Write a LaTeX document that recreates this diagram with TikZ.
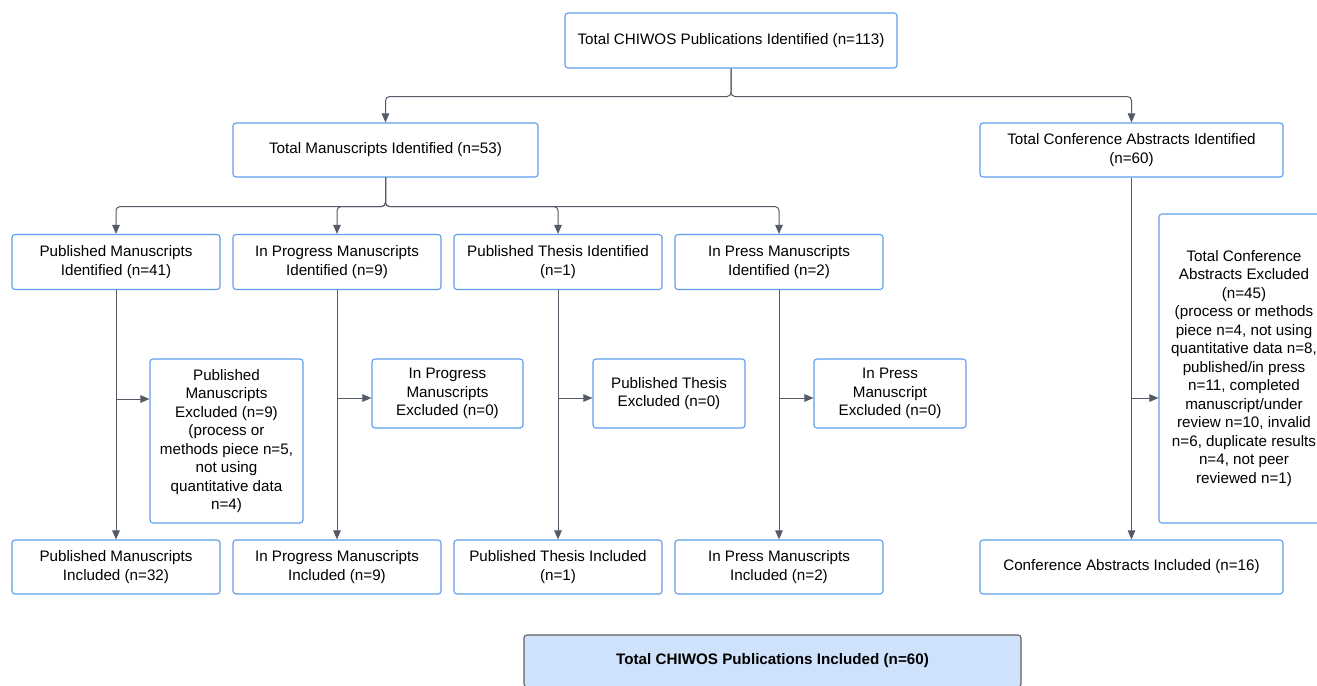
\documentclass[tikz,border=0pt]{standalone}
\usepackage{fontspec}
\setmainfont{Liberation Sans}
\usetikzlibrary{arrows.meta,calc}
\usetikzlibrary{positioning}
\definecolor{boxblue}{HTML}{5E9DEB}
\definecolor{linegray}{HTML}{545B66}
\definecolor{finalfill}{HTML}{CFE2FB}
\tikzset{box/.style={draw=boxblue,line width=1.1bp,rounded corners=3bp,align=center,inner sep=0pt,fill=white},
  conn/.style={draw=linegray,line width=1bp,-{Triangle[length=9bp,width=7.5bp]},rounded corners=4bp}}

\begin{document}
\begin{tikzpicture}[x=1bp,y=-1bp,font=\fontsize{15.2bp}{18.5bp}\selectfont]
\useasboundingbox (0,0) rectangle (1317,685);
% --- identified
\node[box,minimum width=332bp,minimum height=55bp] (top) at (731,40.5) {Total CHIWOS Publications Identified (n=113)};
\node[box,minimum width=305bp,minimum height=54bp] (mscr) at (385.5,150) {Total Manuscripts Identified (n=53)};
\node[box,minimum width=303bp,minimum height=54bp] (conf) at (1131.5,150) {Total Conference Abstracts Identified\\(n=60)};
\node[box,minimum width=208bp,minimum height=55bp] (pubId) at (116,262) {Published Manuscripts\\Identified (n=41)};
\node[box,minimum width=208bp,minimum height=55bp] (progId) at (337,262) {In Progress Manuscripts\\Identified (n=9)};
\node[box,minimum width=208bp,minimum height=55bp] (thesId) at (558,262) {Published Thesis Identified\\(n=1)};
\node[box,minimum width=208bp,minimum height=55bp] (pressId) at (779,262) {In Press Manuscripts\\Identified (n=2)};
% --- excluded
\node[box,minimum width=153bp,minimum height=164bp] (pubEx) at (226.5,441) {Published\\Manuscripts\\Excluded (n=9)\\(process or\\methods piece n=5,\\not using\\quantitative data\\n=4)};
\node[box,minimum width=151bp,minimum height=69bp] (progEx) at (447.5,393.5) {In Progress\\Manuscripts\\Excluded (n=0)};
\node[box,minimum width=152bp,minimum height=69bp] (thesEx) at (669,393.5) {Published Thesis\\Excluded (n=0)};
\node[box,minimum width=152bp,minimum height=69bp] (pressEx) at (890,393.5) {In Press\\Manuscript\\Excluded (n=0)};
\node[box,minimum width=170bp,minimum height=309bp] (confEx) at (1244,368.5) {Total Conference\\Abstracts Excluded\\(n=45)\\(process or methods\\piece n=4, not using\\quantitative data n=8,\\published/in press\\n=11, completed\\manuscript/under\\review n=10, invalid\\n=6, duplicate results\\n=4, not peer\\reviewed n=1)};
% --- included
\node[box,minimum width=208bp,minimum height=54bp] (pubIn) at (116,567) {Published Manuscripts\\Included (n=32)};
\node[box,minimum width=208bp,minimum height=54bp] (progIn) at (337,567) {In Progress Manuscripts\\Included (n=9)};
\node[box,minimum width=208bp,minimum height=54bp] (thesIn) at (558,567) {Published Thesis Included\\(n=1)};
\node[box,minimum width=208bp,minimum height=54bp] (pressIn) at (779,567) {In Press Manuscripts\\Included (n=2)};
\node[box,minimum width=303bp,minimum height=54bp] (confIn) at (1131.5,567) {Conference Abstracts Included (n=16)};
\node[box,draw=gray!75!black,fill=finalfill,minimum width=497bp,minimum height=52bp,font=\fontsize{15.2bp}{18.5bp}\selectfont\bfseries] (final) at (772.5,661) {Total CHIWOS Publications Included (n=60)};
% --- connectors
\draw[conn] (top.south) -- ++(0,28) -| (mscr.north);
\draw[conn] (top.south) -- ++(0,28) -| (conf.north);
\foreach \n in {pubId,progId,thesId,pressId} \draw[conn] (mscr.south) -- ++(0,29) -| (\n.north);
\draw[conn] (pubId) -- (pubIn); \draw[conn] (progId) -- (progIn);
\draw[conn] (thesId) -- (thesIn); \draw[conn] (pressId) -- (pressIn);
\draw[conn] (conf) -- (confIn);
\coordinate (pubBr) at (116,399); \coordinate (progBr) at (337,398);
\coordinate (thesBr) at (558,398); \coordinate (pressBr) at (779,398);
\coordinate (confBr) at (1131.5,398);
\draw[conn] (pubBr) -- (pubBr -| pubEx.west);
\draw[conn] (progBr) -- (progBr -| progEx.west);
\draw[conn] (thesBr) -- (thesBr -| thesEx.west);
\draw[conn] (pressBr) -- (pressBr -| pressEx.west);
\draw[conn] (confBr) -- (confBr -| confEx.west);
\end{tikzpicture}
\end{document}
